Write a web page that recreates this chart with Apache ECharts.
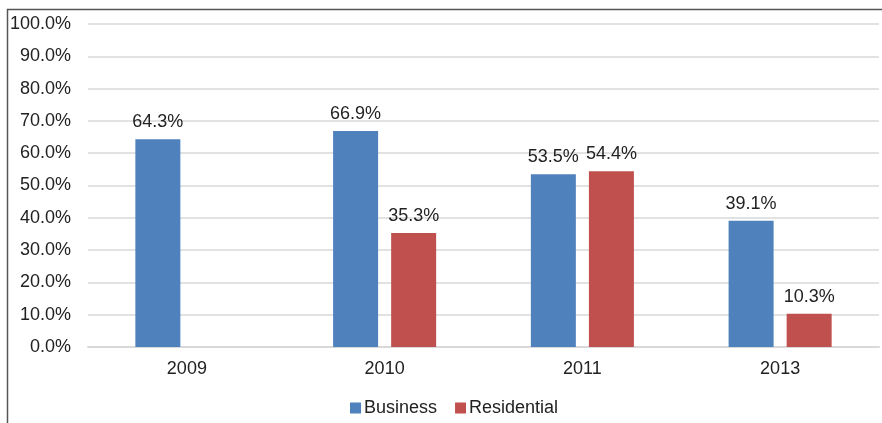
<!DOCTYPE html>
<html><head><meta charset="utf-8">
<script src="https://cdn.jsdelivr.net/npm/echarts@6/dist/echarts.min.js"></script>
<style>html,body{margin:0;padding:0;background:#fff}#c{width:882px;height:423px}</style>
</head><body><div id="c"></div>
<script>
const categories = ['2009', '2010', '2011', '2013'];
const business = [64.3, 66.9, 53.5, 39.1];
const residential = [null, 35.3, 54.4, 10.3];
const yTicks = [0, 10, 20, 30, 40, 50, 60, 70, 80, 90, 100];

const chart = echarts.init(document.getElementById('c'));
const font = 'Arial';
const fs = 18;
const lbl = {show: true, position: 'top', distance: 8, color: '#222', fontSize: fs, fontFamily: font,
  formatter: p => p.value == null ? '' : p.value.toFixed(1) + '%'};
chart.setOption({
  animation: false,
  graphic: [{type: 'rect', shape: {x: 7.5, y: 9.5, width: 1000, height: 1000},
    style: {fill: 'none', stroke: '#555', lineWidth: 1.5}, z: 100}],
  grid: {left: 88, right: 3, top: 24, bottom: 76},
  legend: {top: 394, left: 345, itemWidth: 11, itemHeight: 11, itemGap: 18,
    textStyle: {fontSize: fs, color: '#222', fontFamily: font, padding: [0, 0, 0, -2]},
    data: [{name: 'Business', icon: 'rect'}, {name: 'Residential', icon: 'rect'}]},
  xAxis: {type: 'category', data: categories,
    axisLine: {lineStyle: {color: '#d9d9d9', width: 2}}, axisTick: {show: false},
    axisLabel: {fontSize: fs, color: '#222', fontFamily: font, margin: 13}},
  yAxis: {type: 'value', min: 0, max: 100, interval: 10,
    axisLine: {show: false}, axisTick: {show: false},
    splitLine: {lineStyle: {color: '#d9d9d9', width: 1.5}},
    axisLabel: {fontSize: fs, color: '#222', fontFamily: font, margin: 17,
      formatter: v => yTicks.includes(v) ? v.toFixed(1) + '%' : ''}},
  series: [
    {name: 'Business', type: 'bar', data: business, barWidth: 45, barGap: '29%',
      itemStyle: {color: '#4F81BD'}, label: lbl},
    {name: 'Residential', type: 'bar', data: residential, barWidth: 45,
      itemStyle: {color: '#C0504D'}, label: lbl}
  ]
});
</script></body></html>
